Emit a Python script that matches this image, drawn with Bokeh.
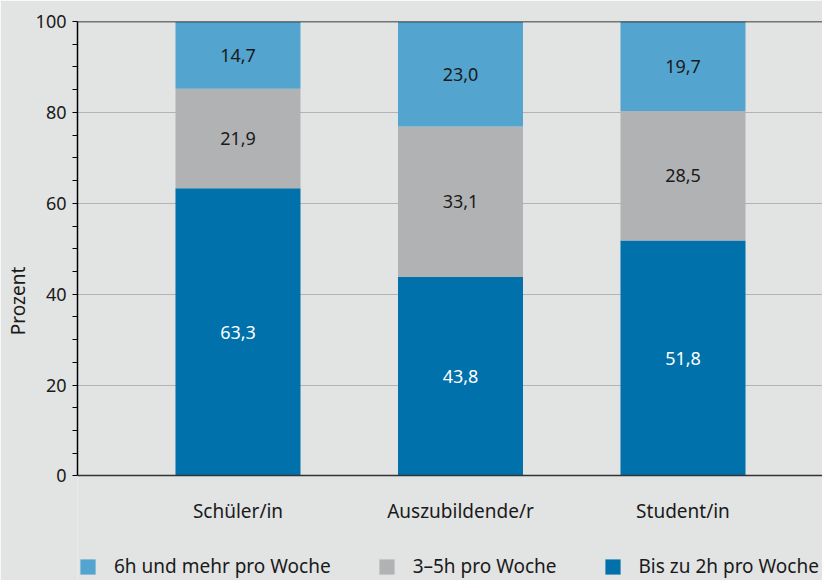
import numpy as np
from bokeh.plotting import figure
from bokeh.models import (Range1d, FixedTicker, Legend, LegendItem, ColumnDataSource, Span)
from bokeh.core.properties import value
from bokeh.embed import file_html
from bokeh.resources import INLINE

categories = ["Schüler/in", "Auszubildende/r", "Student/in"]
series_names = ["Bis zu 2h pro Woche", "3–5h pro Woche", "6h und mehr pro Woche"]
bis2 = [63.3, 43.8, 51.8]
h35 = [21.9, 33.1, 28.5]
h6 = [14.7, 23.0, 19.7]
y_ticks = [0, 20, 40, 60, 80, 100]
y_minor = [5, 10, 15, 25, 30, 35, 45, 50, 55, 65, 70, 75, 85, 90, 95]

colors = ["#0071aa", "#b1b2b4", "#53a4cf"]
label_colors = ["white", "#1a1a1a", "#1a1a1a"]
BG = "#e2e3e3"
FONT = "Noto Sans"
FS = "18px"
FS_L = "19px"

xs = list(range(len(categories)))
src = ColumnDataSource(dict(x=xs, s0=bis2, s1=h35, s2=h6))

p = figure(width=822, height=580, output_backend="svg", toolbar_location=None,
           x_range=Range1d(-0.7213, 2.627), y_range=Range1d(-23.0, 100),
           min_border_left=77, min_border_top=21, min_border_right=0, min_border_bottom=0)
p.background_fill_color = BG
p.border_fill_color = BG
p.outline_line_color = None

rs = p.vbar_stack(["s0", "s1", "s2"], x="x", width=0.5618, color=colors, source=src,
                  line_color=None)

# value labels
vals = [bis2, h35, h6]
base = np.zeros(len(categories))
for k, v in enumerate(vals):
    v = np.array(v)
    mids = base + v / 2
    base = base + v
    txt = [f"{a:.1f}".replace(".", ",") for a in v]
    p.text(x=xs, y=list(mids), text=txt, text_align="center", text_baseline="middle",
           text_font=value(FONT), text_font_size=FS, text_color=label_colors[k])

# grid
p.xgrid.grid_line_color = None
p.ygrid.ticker = FixedTicker(ticks=y_ticks[1:-1])
p.ygrid.grid_line_color = "#b3b3b3"
p.ygrid.grid_line_width = 1
p.add_layout(Span(location=y_ticks[-1], dimension="width", line_color="black", line_width=1.5))

# y axis
p.yaxis.ticker = FixedTicker(ticks=y_ticks, minor_ticks=y_minor)
p.yaxis.bounds = (y_ticks[0], y_ticks[-1])
p.yaxis.axis_label = "Prozent"
p.yaxis.axis_label_text_font = FONT
p.yaxis.axis_label_text_font_size = FS_L
p.yaxis.axis_label_text_font_style = "normal"
p.yaxis.axis_label_text_color = "#1a1a1a"
p.yaxis.axis_label_standoff = 2
p.yaxis.major_label_text_font = FONT
p.yaxis.major_label_text_font_size = FS
p.yaxis.major_label_text_color = "#1a1a1a"
p.yaxis.major_label_standoff = 6
p.yaxis.axis_line_color = "black"
p.yaxis.axis_line_width = 1.5
p.yaxis.major_tick_line_color = "black"
p.yaxis.minor_tick_line_color = "black"
p.yaxis.major_tick_out = 5
p.yaxis.major_tick_in = 0
p.yaxis.minor_tick_out = 5
p.yaxis.minor_tick_in = 0

# x axis, drawn at y = 0
p.xaxis.fixed_location = y_ticks[0]
p.xaxis.ticker = FixedTicker(ticks=xs)
p.xaxis.major_label_overrides = {i: c for i, c in enumerate(categories)}
p.xaxis.major_label_text_font = FONT
p.xaxis.major_label_text_font_size = FS_L
p.xaxis.major_label_text_color = "#1a1a1a"
p.xaxis.major_label_standoff = 16
p.xaxis.major_tick_line_color = None
p.xaxis.minor_tick_line_color = None
p.xaxis.axis_line_color = "#333333"
p.xaxis.axis_line_width = 1.5

legend = Legend(items=[LegendItem(label=series_names[2], renderers=[rs[2]]),
                       LegendItem(label=series_names[1], renderers=[rs[1]]),
                       LegendItem(label=series_names[0], renderers=[rs[0]])],
                orientation="horizontal", location=(1, 1),
                glyph_width=19, glyph_height=19, label_standoff=17, spacing=46,
                padding=0, margin=0, border_line_alpha=0, background_fill_alpha=0,
                label_text_font=FONT, label_text_font_size=FS_L, label_text_color="#1a1a1a")
p.add_layout(legend, "center")

open("out.html", "w").write(file_html(p, INLINE))
